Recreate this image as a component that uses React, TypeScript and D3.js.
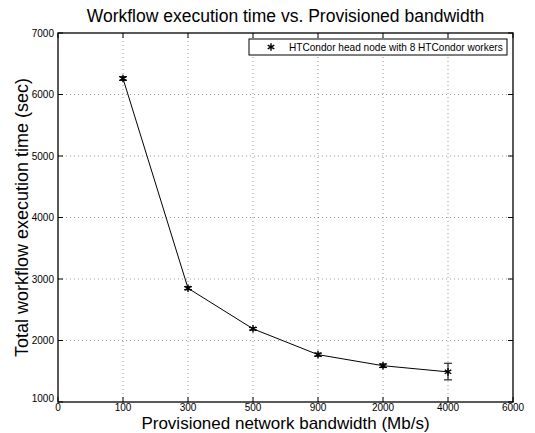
import React from "react";
import * as d3 from "d3";

const xTickLabels = ["0", "100", "300", "500", "900", "2000", "4000", "6000"];
const bandwidth = ["100", "300", "500", "900", "2000", "4000"];
const execTime = [6260, 2850, 2190, 1770, 1590, 1490];
const errLow = [30, 25, 20, 25, 30, 130];
const errHigh = [30, 25, 20, 25, 30, 140];
const yTicks = [1000, 2000, 3000, 4000, 5000, 6000, 7000];

const W = 535, H = 433;
const L = 58, R = 513, T = 33, B = 402;

export default function App() {
  const x = d3.scaleLinear().domain([0, xTickLabels.length - 1]).range([L, R]);
  const y = d3.scaleLinear().domain([1000, 7000]).range([B, T]);
  const xi = (b: string) => xTickLabels.indexOf(b);
  const pts = bandwidth.map((b, i) => [x(xi(b)), y(execTime[i])] as [number, number]);
  const line = d3.line()(pts) || "";
  const star = d3.symbol().type(d3.symbolAsterisk).size(40)() || "";
  const font = "Liberation Sans, Arial, Helvetica, sans-serif";
  const tl = 5;
  return (
    <svg width={W} height={H} style={{ position: "absolute", left: 0, top: 0, background: "#fff" }} fontFamily={font}>
      <rect x={0} y={0} width={W} height={H} fill="#fff" />
      {/* grid */}
      {xTickLabels.map((_, i) =>
        i > 0 && i < xTickLabels.length - 1 ? (
          <line key={"gx" + i} x1={x(i)} x2={x(i)} y1={T} y2={B} stroke="#555" strokeWidth={0.6} strokeDasharray="1,3" />
        ) : null
      )}
      {yTicks.map((v, i) =>
        i > 0 && i < yTicks.length - 1 ? (
          <line key={"gy" + i} x1={L} x2={R} y1={y(v)} y2={y(v)} stroke="#555" strokeWidth={0.6} strokeDasharray="1,3" />
        ) : null
      )}
      {/* ticks */}
      {xTickLabels.map((t, i) => (
        <g key={"tx" + i}>
          <line x1={x(i)} x2={x(i)} y1={B} y2={B - tl} stroke="#000" />
          <line x1={x(i)} x2={x(i)} y1={T} y2={T + tl} stroke="#000" />
          <text x={x(i)} y={410.5} fontSize={10} textAnchor="middle">{t}</text>
        </g>
      ))}
      {yTicks.map((v, i) => (
        <g key={"ty" + i}>
          <line x1={L} x2={L + tl} y1={y(v)} y2={y(v)} stroke="#000" />
          <line x1={R} x2={R - tl} y1={y(v)} y2={y(v)} stroke="#000" />
          <text x={54} y={y(v) + (i === 0 ? 0 : 3.5)} fontSize={10} textAnchor="end">{v}</text>
        </g>
      ))}
      {/* frame */}
      <rect x={L} y={T} width={R - L} height={B - T} fill="none" stroke="#000" strokeWidth={1.3} />
      {/* data */}
      <path d={line} fill="none" stroke="#000" strokeWidth={1} />
      {pts.map(([px, py], i) => {
        const yt = y(execTime[i] + errHigh[i]);
        const yb = y(execTime[i] - errLow[i]);
        return (
          <g key={"p" + i}>
            <line x1={px} x2={px} y1={yt} y2={yb} stroke="#000" />
            <line x1={px - 4} x2={px + 4} y1={yt} y2={yt} stroke="#000" />
            <line x1={px - 4} x2={px + 4} y1={yb} y2={yb} stroke="#000" />
            <path d={star} transform={`translate(${px},${py})`} fill="none" stroke="#000" strokeWidth={1.4} />
          </g>
        );
      })}
      {/* legend */}
      <rect x={249} y={39} width={258} height={16} fill="#fff" stroke="#000" strokeWidth={1} />
      <path d={star} transform="translate(271,47)" fill="none" stroke="#000" strokeWidth={1.4} />
      <text x={289} y={51} fontSize={10.1}>HTCondor head node with 8 HTCondor workers</text>
      {/* titles */}
      <text x={(L + R) / 2} y={22} fontSize={17.5} textAnchor="middle">Workflow execution time vs. Provisioned bandwidth</text>
      <text x={(L + R) / 2} y={428.5} fontSize={17} textAnchor="middle">Provisioned network bandwidth (Mb/s)</text>
      <text transform={`translate(28,${(T + B) / 2}) rotate(-90)`} fontSize={18} textAnchor="middle">Total workflow execution time (sec)</text>
    </svg>
  );
}
